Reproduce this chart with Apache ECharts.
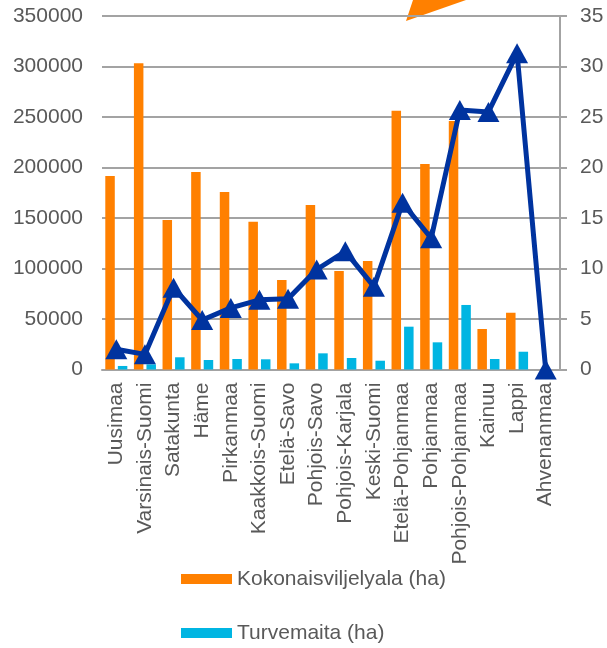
<!DOCTYPE html>
<html>
<head>
<meta charset="utf-8">
<script src="https://cdn.jsdelivr.net/npm/echarts@6/dist/echarts.min.js"></script>
<style>
html,body{margin:0;padding:0;background:#fff;}
#c{width:607px;height:648px;}
</style>
</head>
<body>
<div id="c"></div>
<script>
const categories = ['Uusimaa','Varsinais-Suomi','Satakunta','Häme','Pirkanmaa','Kaakkois-Suomi','Etelä-Savo','Pohjois-Savo','Pohjois-Karjala','Keski-Suomi','Etelä-Pohjanmaa','Pohjanmaa','Pohjois-Pohjanmaa','Kainuu','Lappi','Ahvenanmaa'];
const kokonaisviljelyala = [191600,303100,148000,195500,175700,146300,88600,162900,97500,107400,256200,203400,246000,40100,56200,0];
const turvemaita = [3500,5100,12100,9400,10400,10100,6100,16000,11400,8700,42400,26900,63900,10400,17600,0];
const turveOsuus = [2.0,1.5,8.1,4.9,6.1,6.9,7.0,9.9,11.7,8.2,16.5,13.0,25.7,25.5,31.3,0];
const leftTicks = {min:0, max:350000, interval:50000};
const rightTicks = {min:0, max:35, interval:5};

const FONT = 'Liberation Sans, Arial, sans-serif';
const TXT = '#595959';
const GRID = '#A3A3A3';

const chart = echarts.init(document.getElementById('c'), null, {renderer:'canvas'});
chart.setOption({
  animation:false,
  backgroundColor:'#fff',
  textStyle:{fontFamily:FONT},
  grid:{left:102, right:47, top:16, bottom:278.5, containLabel:false},
  legend:{
    orient:'vertical', left:181, top:568.5, padding:0,
    itemWidth:51, itemHeight:10, itemGap:33,
    icon:'rect',
    data:['Kokonaisviljelyala (ha)','Turvemaita (ha)'],
    textStyle:{fontFamily:FONT, fontSize:21, lineHeight:21, color:TXT}
  },
  xAxis:{
    type:'category', data:categories,
    axisLine:{show:true, lineStyle:{color:GRID, width:2}},
    axisTick:{show:false},
    axisLabel:{rotate:90, margin:13, interval:0, fontSize:21, color:TXT, fontFamily:FONT}
  },
  yAxis:[{
    type:'value', min:leftTicks.min, max:leftTicks.max, interval:leftTicks.interval,
    axisLine:{show:false}, axisTick:{show:false},
    splitLine:{lineStyle:{color:GRID, width:2}},
    axisLabel:{margin:19, fontSize:21, color:TXT, fontFamily:FONT, formatter:v=>String(v)}
  },{
    type:'value', min:rightTicks.min, max:rightTicks.max, interval:rightTicks.interval,
    position:'right',
    axisLine:{show:true, lineStyle:{color:GRID, width:2}},
    axisTick:{show:true, length:7, lineStyle:{color:GRID, width:2}},
    splitLine:{show:false},
    axisLabel:{margin:20, fontSize:21, color:TXT, fontFamily:FONT, formatter:v=>String(v)}
  }],
  series:[{
    name:'Kokonaisviljelyala (ha)', type:'bar', data:kokonaisviljelyala,
    barWidth:9.5, barGap:'32%', itemStyle:{color:'#FF8000'}, yAxisIndex:0
  },{
    name:'Turvemaita (ha)', type:'bar', data:turvemaita,
    barWidth:9.5, barGap:'32%', itemStyle:{color:'#00B5E2'}, yAxisIndex:0
  },{
    name:'Turvemaiden osuus (%)', type:'line', data:turveOsuus, yAxisIndex:1,
    lineStyle:{color:'#00339F', width:5},
    itemStyle:{color:'#00339F'},
    symbol:'triangle', symbolSize:[22,20], showAllSymbol:true, z:5
  }],
  graphic:[{
    type:'polygon', shape:{points:[[406,21],[413,0],[466,0]]},
    style:{fill:'#FF8000'}
  }]
});
</script>
</body>
</html>
